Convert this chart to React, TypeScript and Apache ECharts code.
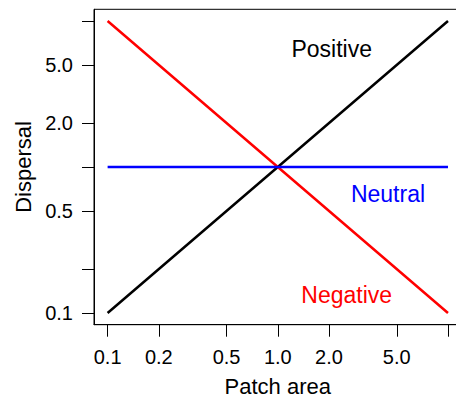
import React, { useEffect, useRef } from "react";
import * as echarts from "echarts";

// Data (original units, plotted on log10 scales)
const patchArea = [0.1, 1, 10];
const positiveDispersal = [0.1, 1, 10];
const neutralDispersal = [1, 1, 1];
const negativeDispersal = [10, 1, 0.1];

const xTickValues = [0.1, 0.2, 0.5, 1, 2, 5, 10];
const xLabelValues = [0.1, 0.2, 0.5, 1, 2, 5];
const xLabelTexts = ["0.1", "0.2", "0.5", "1.0", "2.0", "5.0"];

const yTickValues = [0.1, 0.2, 0.5, 1, 2, 5, 10];
const yLabelValues = [0.1, 0.5, 2, 5];
const yLabelTexts = ["0.1", "0.5", "2.0", "5.0"];

const FONT = "'Liberation Sans', Arial, Helvetica, sans-serif";

const lg = (v: number) => Math.log10(v);

function labelFor(values: number[], texts: string[]) {
  return (v: number) => {
    let best = 0;
    let bd = Infinity;
    values.forEach((x, i) => {
      const d = Math.abs(lg(x) - v);
      if (d < bd) {
        bd = d;
        best = i;
      }
    });
    return bd < 1e-6 ? texts[best] : "";
  };
}

export default function App() {
  const ref = useRef<HTMLDivElement>(null);
  useEffect(() => {
    if (!ref.current) return;
    const chart = echarts.init(ref.current, undefined, { renderer: "svg" });
    const mk = (ys: number[]) => patchArea.map((x, i) => [lg(x), lg(ys[i])]);
    const axisCommon = {
      type: "value" as const,
      min: -1.08,
      max: 1.08,
      splitLine: { show: false },
      axisLine: { show: true, onZero: false, lineStyle: { color: "#000", width: 1 } },
    };
    chart.setOption({
      animation: false,
      backgroundColor: "#fff",
      grid: {
        left: 94,
        top: 9.3,
        right: 0.4,
        bottom: 76.3,
        show: true,
        borderColor: "#000",
        borderWidth: 1,
        containLabel: false,
        outerBoundsMode: "none",
      },
      xAxis: {
        ...axisCommon,
        name: "Patch area",
        nameLocation: "middle",
        nameGap: 51,
        nameTextStyle: { fontSize: 22, fontFamily: FONT, color: "#000" },
        axisTick: {
          show: true,
          length: 12,
          lineStyle: { color: "#000", width: 1 },
          customValues: xTickValues.map(lg),
        },
        axisLabel: {
          fontSize: 20,
          fontFamily: FONT,
          color: "#000",
          margin: 22,
          customValues: xLabelValues.map(lg),
          formatter: labelFor(xLabelValues, xLabelTexts),
        },
      },
      yAxis: {
        ...axisCommon,
        name: "Dispersal",
        nameLocation: "middle",
        nameGap: 55,
        nameTextStyle: { fontSize: 22, fontFamily: FONT, color: "#000" },
        axisTick: {
          show: true,
          length: 12,
          lineStyle: { color: "#000", width: 1 },
          customValues: yTickValues.map(lg),
        },
        axisLabel: {
          fontSize: 20,
          fontFamily: FONT,
          color: "#000",
          margin: 21,
          customValues: yLabelValues.map(lg),
          formatter: labelFor(yLabelValues, yLabelTexts),
        },
      },
      series: [
        {
          name: "Positive",
          type: "line",
          data: mk(positiveDispersal),
          showSymbol: false,
          lineStyle: { color: "#000", width: 2.5 },
        },
        {
          name: "Negative",
          type: "line",
          data: mk(negativeDispersal),
          showSymbol: false,
          lineStyle: { color: "#ff0000", width: 2.5 },
        },
        {
          name: "Neutral",
          type: "line",
          data: mk(neutralDispersal),
          showSymbol: false,
          lineStyle: { color: "#0000ff", width: 2.5 },
        },
      ],
      graphic: [
        {
          type: "text",
          x: 331.7,
          y: 49.3,
          style: {
            text: "Positive",
            fill: "#000",
            font: `23px ${FONT}`,
            textAlign: "center",
            textVerticalAlign: "middle",
          },
        },
        {
          type: "text",
          x: 388,
          y: 194.2,
          style: {
            text: "Neutral",
            fill: "#0000ff",
            font: `23px ${FONT}`,
            textAlign: "center",
            textVerticalAlign: "middle",
          },
        },
        {
          type: "text",
          x: 346.7,
          y: 295,
          style: {
            text: "Negative",
            fill: "#ff0000",
            font: `23px ${FONT}`,
            textAlign: "center",
            textVerticalAlign: "middle",
          },
        },
      ],
    });
    return () => chart.dispose();
  }, []);
  return (
    <div
      style={{
        position: "fixed",
        left: 0,
        top: 0,
        width: 456,
        height: 401,
        overflow: "hidden",
      }}
    >
      <div ref={ref} style={{ width: 462, height: 401 }} />
    </div>
  );
}
